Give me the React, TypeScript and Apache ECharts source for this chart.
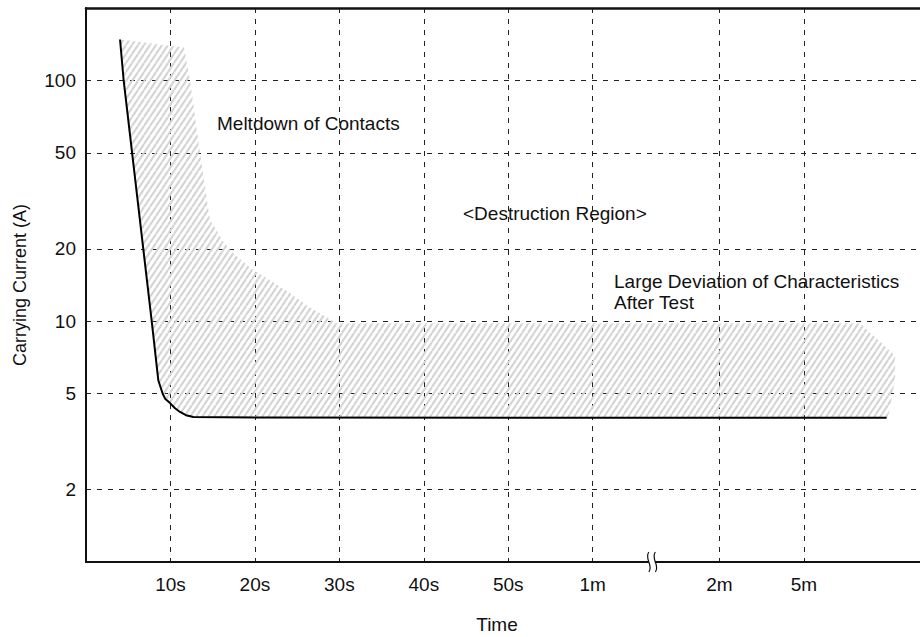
import React, { useEffect, useRef } from "react";
import * as echarts from "echarts";

// ---- Data ----
const xTickPos = [1, 2, 3, 4, 5, 6, 7.5, 8.5];
const xTickLabels = ["10s", "20s", "30s", "40s", "50s", "1m", "2m", "5m"];
const yTicks = [2, 5, 10, 20, 50, 100];
const xMax = 9.875;
const yMin = 1;
const yMax = 200;
const breakPos = 6.7;

// black characteristic curve
const curveX = [0.403, 0.446, 0.778, 0.856, 0.908, 0.94, 0.995, 1.054, 1.113, 1.184, 1.271, 2.0, 9.48];
const curveA = [148, 100, 10, 5.69, 5.0, 4.75, 4.57, 4.35, 4.2, 4.07, 4.0, 3.98, 3.97];

// upper boundary of the hatched destruction region
const hatchX = [0.403, 1.16, 1.232, 1.35, 1.468, 1.528, 1.61, 1.741, 1.942, 2.179, 2.416, 2.652, 2.972, 9.165, 9.58, 9.58, 9.497];
const hatchA = [148, 137, 100, 49.8, 26.3, 24.5, 21.7, 19.2, 16.7, 14.8, 13.1, 11.4, 9.8, 9.8, 7.2, 5.7, 4.0];

const annotations = [
  { text: "Meltdown of Contacts", x: 217, y: 113 },
  { text: "<Destruction Region>", x: 463, y: 203 },
  { text: "Large Deviation of Characteristics\nAfter Test", x: 614, y: 271 },
];

const FONT = '"Liberation Sans", Arial, Helvetica, sans-serif';

const hatchTile =
  '<svg xmlns="http://www.w3.org/2000/svg" width="6" height="9"><path d="M-6 9L0 0M0 9L6 0M6 9L12 0" stroke="#d4d4d4" stroke-width="2.1" fill="none"/></svg>';
const hatchUrl = "data:image/svg+xml;charset=utf-8," + encodeURIComponent(hatchTile);

export default function App() {
  const ref = useRef<HTMLDivElement>(null);
  useEffect(() => {
    if (!ref.current) return;
    const chart = echarts.init(ref.current, undefined, { renderer: "svg" });
    const gridLine = { show: true, lineStyle: { color: "#222", width: 1, type: [5, 6] as any } };
    const pattern: any = { image: hatchUrl, repeat: "repeat", imageWidth: 6, imageHeight: 9 };
    const option: any = {
      animation: false,
      backgroundColor: "#fff",
      textStyle: { fontFamily: FONT, color: "#111" },
      grid: { left: 86, top: 8, right: 0, bottom: 75, containLabel: false, outerBoundsMode: "none" },
      xAxis: [
        {
          type: "value",
          min: 0,
          max: xMax,
          position: "bottom",
          axisLine: { show: true, onZero: false, lineStyle: { color: "#111", width: 2 } },
          axisTick: { show: false, customValues: xTickPos },
          axisLabel: {
            customValues: xTickPos,
            formatter: (v: number) => {
              const i = xTickPos.findIndex((p) => Math.abs(p - v) < 1e-6);
              return i >= 0 ? xTickLabels[i] : "";
            },
            margin: 13,
            fontSize: 19,
            color: "#111",
            fontFamily: FONT,
          },
          splitLine: gridLine,
          name: "Time",
          nameLocation: "middle",
          nameGap: 53,
          nameTextStyle: { fontSize: 19, color: "#111", fontFamily: FONT, padding: [0, 12, 0, 0] },
        },
        {
          type: "value",
          min: 0,
          max: xMax,
          position: "top",
          axisLine: { show: true, onZero: false, lineStyle: { color: "#111", width: 2.5 } },
          axisTick: { show: false },
          axisLabel: { show: false },
          splitLine: { show: false },
        },
      ],
      yAxis: {
        type: "log",
        logBase: 10,
        min: yMin,
        max: yMax,
        axisLine: { show: true, onZero: false, lineStyle: { color: "#111", width: 2 } },
        axisTick: { show: false, customValues: yTicks },
        axisLabel: {
          customValues: yTicks,
          formatter: (v: number) => String(Math.round(v * 100) / 100),
          margin: 10,
          fontSize: 19,
          color: "#111",
          fontFamily: FONT,
        },
        splitLine: gridLine,
        name: "Carrying Current (A)",
        nameLocation: "middle",
        nameGap: 57,
        nameTextStyle: { fontSize: 18, color: "#111", fontFamily: FONT },
      },
      series: [
        {
          type: "custom",
          name: "Destruction Region",
          xAxisIndex: 0,
          yAxisIndex: 0,
          z: 1,
          data: [[1, 10]],
          renderItem: (_params: any, api: any) => {
            const pts: number[][] = [];
            hatchX.forEach((x, i) => pts.push(api.coord([x, hatchA[i]])));
            for (let i = curveX.length - 1; i >= 0; i--) pts.push(api.coord([curveX[i], curveA[i]]));
            return { type: "polygon", shape: { points: pts }, style: { fill: pattern, stroke: null } };
          },
        },
        {
          type: "line",
          name: "Characteristic",
          xAxisIndex: 0,
          yAxisIndex: 0,
          z: 3,
          data: curveX.map((x, i) => [x, curveA[i]]),
          showSymbol: false,
          smooth: false,
          lineStyle: { color: "#000", width: 2, join: "round" },
        },
        {
          type: "custom",
          name: "Break",
          xAxisIndex: 0,
          yAxisIndex: 0,
          clip: false,
          z: 5,
          data: [[breakPos, yMin]],
          renderItem: (_params: any, api: any) => {
            const p = api.coord([api.value(0), api.value(1)]);
            const curve = (cx: number) => ({
              type: "bezierCurve",
              shape: {
                x1: cx, y1: p[1] - 10,
                cpx1: cx - 5, cpy1: p[1] - 3,
                cpx2: cx + 5, cpy2: p[1] + 3,
                x2: cx, y2: p[1] + 10,
              },
              style: { stroke: "#111", lineWidth: 1.2, fill: null },
            });
            return {
              type: "group",
              children: [
                { type: "rect", shape: { x: p[0] - 3, y: p[1] - 3, width: 6, height: 6 }, style: { fill: "#fff" } },
                curve(p[0] - 3),
                curve(p[0] + 3.5),
              ],
            };
          },
        },
      ],
      graphic: annotations.map((a) => ({
        type: "text",
        x: a.x,
        y: a.y,
        z: 10,
        style: {
          text: a.text,
          fill: "#111",
          fontSize: 19,
          fontFamily: FONT,
          lineHeight: 21,
          verticalAlign: "top",
          align: "left",
        },
      })),
    };
    chart.setOption(option);
    return () => chart.dispose();
  }, []);
  return (
    <div
      ref={ref}
      style={{ position: "absolute", left: 0, top: 0, width: 920, height: 637, background: "#fff" }}
    />
  );
}
